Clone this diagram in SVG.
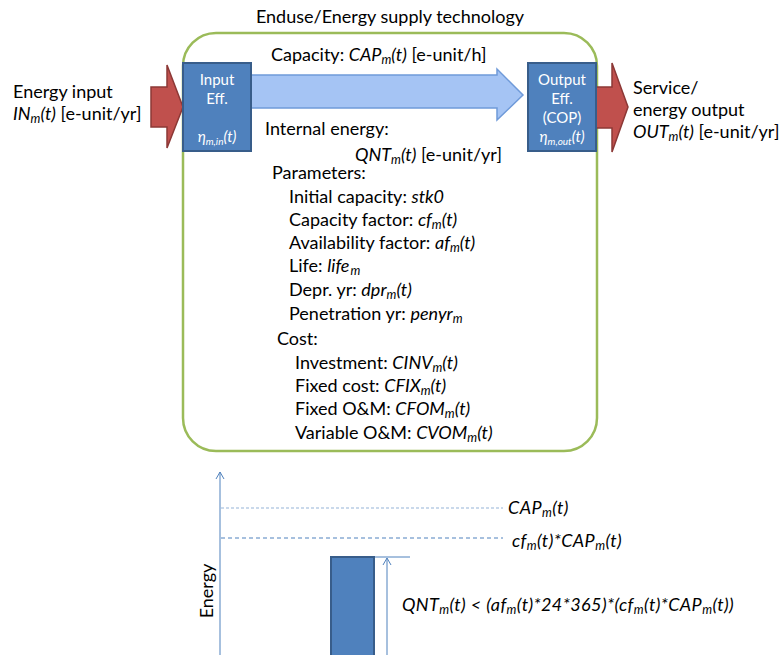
<svg xmlns="http://www.w3.org/2000/svg" width="783" height="655" viewBox="0 0 783 655">
  <defs>
    <style>
      text { font-family: Lato, "Open Sans", "Liberation Sans", sans-serif; font-size: 18px; fill: #000; }
      .it { font-style: italic; }
      .sub { font-size: 12.5px; }
      .chart-label { font-style: italic; letter-spacing: 0.4px; }
      .box-label { fill: #fff; font-size: 15px; text-anchor: middle; }
      .box-label .sub { font-size: 10px; }
      .eff { fill: #4F81BD; stroke: #385D8A; stroke-width: 2; }
      .red-arrow { fill: #C0504D; stroke: #8C3836; stroke-width: 1.5; }
      .axis { stroke: #4F81BD; stroke-width: 1; fill: none; }
    </style>
    <marker id="openHead" viewBox="0 0 10 10" refX="9" refY="5" markerWidth="10" markerHeight="10" markerUnits="userSpaceOnUse" orient="auto">
      <path d="M2,1 L9,5 L2,9" fill="none" stroke="#4F81BD" stroke-width="1"/>
    </marker>
  </defs>

  <rect width="783" height="655" fill="#fff"/>

  <!-- technology container -->
  <g id="technology">
    <rect x="183" y="33" width="414" height="418" rx="33" ry="33" fill="none" stroke="#9BBB59" stroke-width="2.5"/>
    <text x="390" y="23" text-anchor="middle">Enduse/Energy supply technology</text>
  </g>

  <!-- flows -->
  <g id="connectors">
    <!-- energy input arrow -->
    <path class="red-arrow" d="M151,87 L167,87 L167,65 L183,107 L167,148 L167,127 L151,127 Z"/>
    <!-- capacity arrow -->
    <path d="M250,75 L497,75 L497,69 L523,95 L497,120 L497,108 L250,108 Z" fill="#A5C4F4" stroke="#6F9AD9" stroke-width="1.5"/>
    <!-- service output arrow -->
    <path class="red-arrow" d="M596,87 L612,87 L612,63 L628,107 L612,152 L612,128 L596,128 Z"/>
  </g>

  <g id="input-eff">
    <rect class="eff" x="183" y="63" width="68" height="88"/>
    <text class="box-label" x="217" y="85">Input</text>
    <text class="box-label" x="217" y="104">Eff.</text>
    <text class="box-label it" x="217" y="142">η<tspan class="sub" dy="3">m,in</tspan><tspan dy="-3">(t)</tspan></text>
  </g>

  <g id="output-eff">
    <rect class="eff" x="528" y="63" width="68" height="88"/>
    <text class="box-label" x="562" y="85">Output</text>
    <text class="box-label" x="562" y="104">Eff.</text>
    <text class="box-label" x="562" y="123">(COP)</text>
    <text class="box-label it" x="562" y="142">η<tspan class="sub" dy="3">m,out</tspan><tspan dy="-3">(t)</tspan></text>
  </g>

  <g id="energy-input-label">
    <text x="13" y="98">Energy input</text>
    <text x="13" y="120"><tspan class="it">IN<tspan class="sub" dy="3">m</tspan><tspan dy="-3">(t)</tspan></tspan> [e-unit/yr]</text>
  </g>

  <g id="service-output-label">
    <text x="633" y="94">Service/</text>
    <text x="633" y="116">energy output</text>
    <text x="633" y="138"><tspan class="it">OUT<tspan class="sub" dy="3">m</tspan><tspan dy="-3">(t)</tspan></tspan> [e-unit/yr]</text>
  </g>

  <!-- technology attributes -->
  <g id="attributes">
    <text x="271" y="61">Capacity: <tspan class="it">CAP<tspan class="sub" dy="3">m</tspan><tspan dy="-3">(t)</tspan></tspan> [e-unit/h]</text>
    <text x="265" y="135">Internal energy:</text>
    <text x="355" y="161"><tspan class="it">QNT<tspan class="sub" dy="3">m</tspan><tspan dy="-3">(t)</tspan></tspan> [e-unit/yr]</text>
    <text x="272" y="179">Parameters:</text>
    <text x="289" y="203">Initial capacity: <tspan class="it">stk0</tspan></text>
    <text x="289" y="226">Capacity factor: <tspan class="it">cf<tspan class="sub" dy="3">m</tspan><tspan dy="-3">(t)</tspan></tspan></text>
    <text x="289" y="249">Availability factor: <tspan class="it">af<tspan class="sub" dy="3">m</tspan><tspan dy="-3">(t)</tspan></tspan></text>
    <text x="289" y="272">Life: <tspan class="it">life<tspan class="sub" dx="1" dy="3">m</tspan></tspan></text>
    <text x="289" y="296">Depr. yr: <tspan class="it">dpr<tspan class="sub" dy="3">m</tspan><tspan dy="-3">(t)</tspan></tspan></text>
    <text x="289" y="320">Penetration yr: <tspan class="it">penyr<tspan class="sub" dy="3">m</tspan></tspan></text>
    <text x="277" y="345">Cost:</text>
    <text x="295" y="369">Investment: <tspan class="it">CINV<tspan class="sub" dy="3">m</tspan><tspan dy="-3">(t)</tspan></tspan></text>
    <text x="295" y="392">Fixed cost: <tspan class="it">CFIX<tspan class="sub" dy="3">m</tspan><tspan dy="-3">(t)</tspan></tspan></text>
    <text x="295" y="415">Fixed O&amp;M: <tspan class="it">CFOM<tspan class="sub" dy="3">m</tspan><tspan dy="-3">(t)</tspan></tspan></text>
    <text x="295" y="439">Variable O&amp;M: <tspan class="it">CVOM<tspan class="sub" dy="3">m</tspan><tspan dy="-3">(t)</tspan></tspan></text>
  </g>

  <!-- energy chart -->
  <g id="chart">
    <line class="axis" x1="220" y1="655" x2="220" y2="472" marker-end="url(#openHead)"/>
    <text transform="translate(213,591) rotate(-90)" text-anchor="middle">Energy</text>
    <line x1="221" y1="508" x2="503" y2="508" stroke="#95B3D7" stroke-width="1.2" stroke-dasharray="3,2"/>
    <text class="chart-label" x="508" y="514">CAP<tspan class="sub" dy="3">m</tspan><tspan dy="-3">(t)</tspan></text>
    <line x1="221" y1="538" x2="503" y2="538" stroke="#4F81BD" stroke-width="1" stroke-dasharray="4,3"/>
    <text class="chart-label" x="512" y="547">cf<tspan class="sub" dy="3">m</tspan><tspan dy="-3">(t)*CAP</tspan><tspan class="sub" dy="3">m</tspan><tspan dy="-3">(t)</tspan></text>
    <rect x="331" y="557" width="43" height="110" fill="#4F81BD" stroke="#385D8A" stroke-width="2"/>
    <line class="axis" x1="375" y1="557" x2="410" y2="557"/>
    <line class="axis" x1="387" y1="655" x2="387" y2="558" marker-end="url(#openHead)"/>
    <text class="chart-label" x="402" y="611">QNT<tspan class="sub" dy="3">m</tspan><tspan dy="-3">(t) &lt; (af</tspan><tspan class="sub" dy="3">m</tspan><tspan dy="-3">(t)*24*365)*(cf</tspan><tspan class="sub" dy="3">m</tspan><tspan dy="-3">(t)*CAP</tspan><tspan class="sub" dy="3">m</tspan><tspan dy="-3">(t))</tspan></text>
  </g>
</svg>
